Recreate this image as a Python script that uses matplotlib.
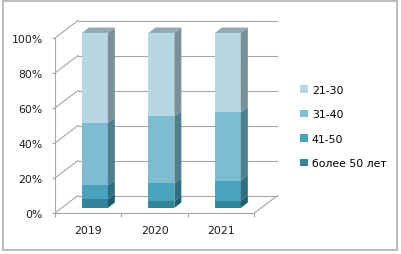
import matplotlib.pyplot as plt
from matplotlib.patches import Polygon, Patch, Rectangle
import numpy as np

plt.rcParams['font.family'] = ['DejaVu Sans']

years = ['2019', '2020', '2021']
series = ['более 50 лет', '41-50', '31-40', '21-30']
over50 = [5.1, 3.8, 4.2]
s41_50 = [7.8, 10.3, 11.4]
s31_40 = [35.6, 38.2, 39.0]
s21_30 = [51.5, 47.7, 45.4]
values = [over50, s41_50, s31_40, s21_30]

front = ['#31849a', '#4aa3bc', '#7dbcd1', '#b7d7e3']
side = ['#225d6c', '#2f6f80', '#4f7f8d', '#7a9098']
top = ['#2c7386', '#3f8ea3', '#6aa3b4', '#93a9b2']

# fake depth of the 3d box, in data units
DX, DY = 0.346, 10.0
bw = 0.39
ox, oy = 0.10, 2.9      # bar front face offset into the box
bdx, bdy = 0.105, 3.1   # bar depth

fig = plt.figure(figsize=(4.02, 2.55), dpi=100)
fig.patches.append(Rectangle((3 / 402, 4 / 255), 394 / 402, 249 / 255,
                             transform=fig.transFigure, fill=False,
                             edgecolor='#b0b0b0', linewidth=1.2))
ax = fig.add_axes([55 / 402, 41 / 255, 222.5 / 402, 192.5 / 255])
ax.set_xlim(-0.5, 2.5 + DX)
ax.set_ylim(0, 110)
ax.patch.set_visible(False)

grid_c = '#a6a6a6'
# back wall gridlines + left wall diagonals
for v in range(0, 101, 20):
    ax.plot([-0.5 + DX, 2.5 + DX], [v + DY, v + DY], color=grid_c, lw=0.8, clip_on=False, zorder=1)
    ax.plot([-0.5, -0.5 + DX], [v, v + DY], color=grid_c, lw=0.8, clip_on=False, zorder=1)
# floor
ax.plot([2.5, 2.5 + DX], [0, DY], color=grid_c, lw=0.8, clip_on=False, zorder=1)

x = np.arange(len(years))
bottom = np.zeros(len(years))
for i, vals in enumerate(values):
    vals = np.array(vals)
    ax.bar(x + ox, vals, bottom=bottom + oy, width=bw, color=front[i], linewidth=0, zorder=3)
    for j in range(len(years)):
        x1 = x[j] + ox + bw / 2
        y0 = bottom[j] + oy
        y1 = y0 + vals[j]
        ax.add_patch(Polygon([(x1, y0), (x1 + bdx, y0 + bdy), (x1 + bdx, y1 + bdy), (x1, y1)],
                             closed=True, facecolor=side[i], edgecolor='none', zorder=3))
        if i == len(values) - 1:
            x0 = x[j] + ox - bw / 2
            ax.add_patch(Polygon([(x0, y1), (x1, y1), (x1 + bdx, y1 + bdy), (x0 + bdx, y1 + bdy)],
                                 closed=True, facecolor=top[i], edgecolor='none', zorder=3))
    bottom += vals

for s in ['top', 'right']:
    ax.spines[s].set_visible(False)
ax.spines['left'].set_bounds(0, 100)
ax.spines['bottom'].set_bounds(-0.5, 2.5)
ax.spines['left'].set_color(grid_c)
ax.spines['bottom'].set_color(grid_c)

ax.set_yticks(range(0, 101, 20))
ax.set_yticklabels([f'{v}%' for v in range(0, 101, 20)])
ax.tick_params(axis='y', direction='out', length=2.2, width=0.8, color=grid_c, pad=6.5,
               labelsize=7.8, labelcolor='#1a1a1a')
ax.set_xticks([-0.5, 0.5, 1.5, 2.5])
ax.set_xticklabels([])
ax.set_xticks(x, minor=True)
ax.set_xticklabels(years, minor=True)
ax.tick_params(axis='x', which='major', direction='out', length=3, width=0.8, color=grid_c)
ax.tick_params(axis='x', which='minor', length=0, pad=9, labelsize=7.8, labelcolor='#1a1a1a')

handles = [Patch(facecolor=front[i], edgecolor='none', label=series[i]) for i in range(3, -1, -1)]
fig.legend(handles=handles, loc='center left', bbox_to_anchor=(300 / 402, (255 - 127.5) / 255),
           frameon=False, fontsize=7.8, handlelength=0.7, handleheight=0.7, handletextpad=0.4,
           labelspacing=1.35, borderpad=0, borderaxespad=0)

fig.savefig('out.png', dpi=100)
